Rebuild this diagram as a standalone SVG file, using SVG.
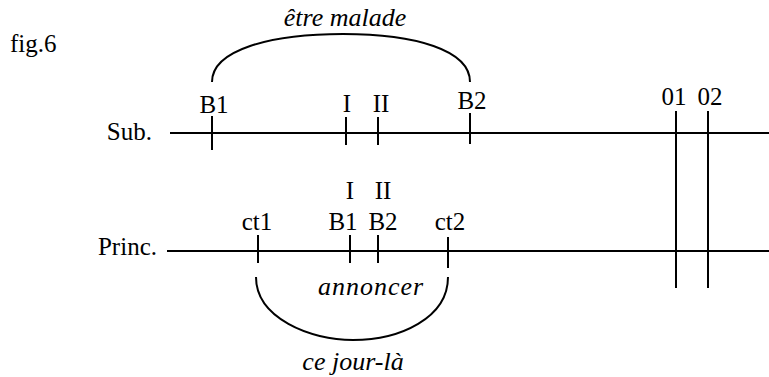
<svg xmlns="http://www.w3.org/2000/svg" width="769" height="377" viewBox="0 0 769 377" font-family="'Liberation Serif', 'Times New Roman', Times, 'DejaVu Serif', serif" font-size="25">
<style>
text{font-family:'Liberation Serif','Times New Roman',Times,'DejaVu Serif',serif;font-size:25px;fill:#000}
.c{text-anchor:middle}
.i{font-style:italic;font-size:26px}
.l{stroke:#000;stroke-width:2;fill:none}
</style>
<rect width="769" height="377" fill="#fff"/>
<text x="10" y="52">fig.6</text>
<g id="sub">
<text x="152" y="140" text-anchor="end">Sub.</text>
<line class="l" x1="170" y1="133" x2="769" y2="133"/>
</g>
<g id="princ">
<text x="157" y="255" text-anchor="end">Princ.</text>
<line class="l" x1="167" y1="251" x2="769" y2="251"/>
</g>
<g id="sub-marks">
<line class="l" x1="212" y1="116" x2="212" y2="150"/>
<text class="c" x="214" y="113">B1</text>
<line class="l" x1="346" y1="117" x2="346" y2="145"/>
<text class="c" x="347" y="112">I</text>
<line class="l" x1="378" y1="117" x2="378" y2="145"/>
<text class="c" x="381" y="112">II</text>
<line class="l" x1="470" y1="113" x2="470" y2="144"/>
<text class="c" x="472" y="109">B2</text>
</g>
<g id="o-marks">
<line class="l" x1="676" y1="111" x2="676" y2="288"/>
<text class="c" x="674" y="105">01</text>
<line class="l" x1="708" y1="111" x2="708" y2="288"/>
<text class="c" x="710" y="105">02</text>
</g>
<g id="princ-marks">
<line class="l" x1="258" y1="235" x2="258" y2="263"/>
<text class="c" x="257" y="230">ct1</text>
<line class="l" x1="350" y1="235" x2="350" y2="263"/>
<text class="c" x="343" y="230">B1</text>
<text class="c" x="350" y="199">I</text>
<line class="l" x1="378" y1="235" x2="378" y2="263"/>
<text class="c" x="383" y="230">B2</text>
<text class="c" x="383" y="199">II</text>
<line class="l" x1="448" y1="237" x2="448" y2="268"/>
<text class="c" x="450" y="230">ct2</text>
</g>
<g id="connectors">
<path class="l" d="M212,82 C212,50 270,34 343,34 C415,34 470,50 470,82"/>
<path class="l" d="M256,277 C256,318 310,340 353,340 C400,340 448,318 448,277"/>
</g>
<g id="labels">
<text class="c i" x="345" y="26">être malade</text>
<text class="c i" x="371" y="295" letter-spacing="1">annoncer</text>
<text class="c i" x="353" y="370">ce jour-là</text>
</g>
</svg>
